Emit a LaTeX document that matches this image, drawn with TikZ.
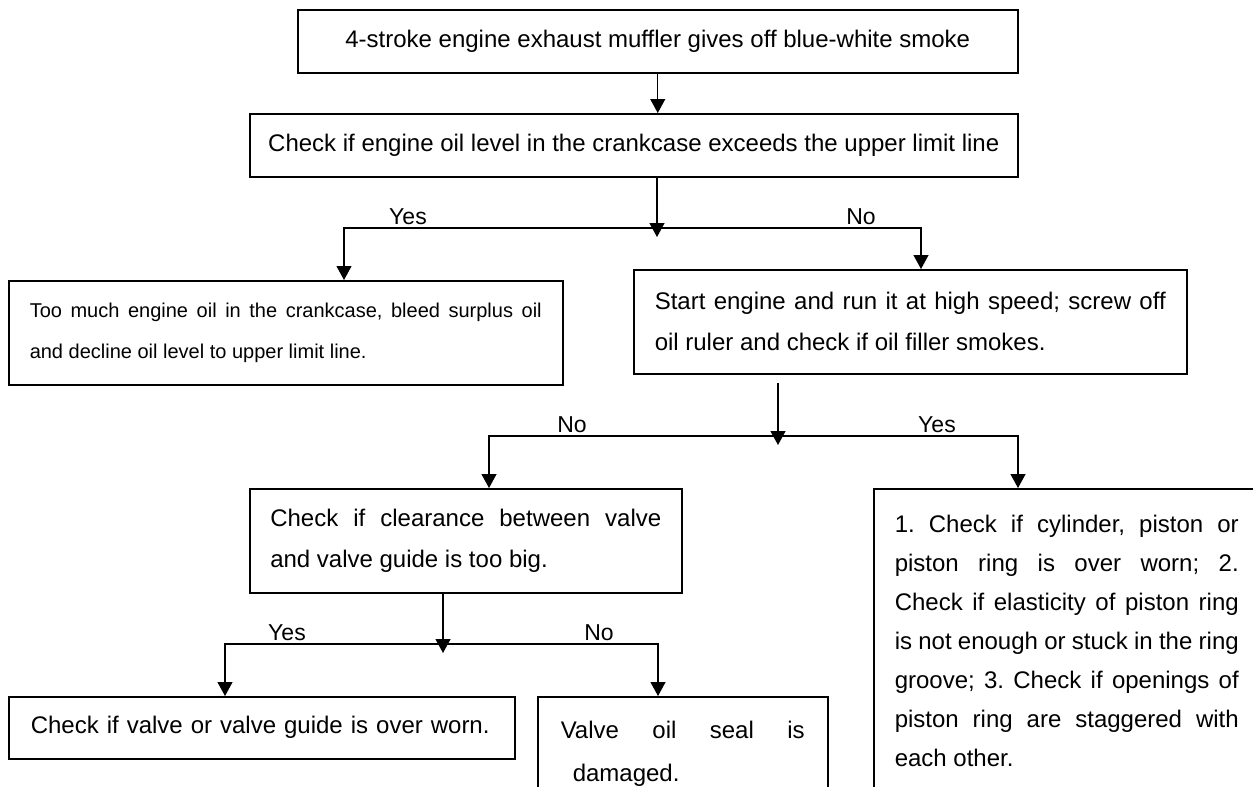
\documentclass[tikz,border=0pt]{standalone}
\usepackage{fontspec}
\setmainfont{Liberation Sans}
\frenchspacing
\usetikzlibrary{arrows.meta}

\begin{document}
\begin{tikzpicture}[
    x=0.5pt, y=-0.5pt,
    box/.style={rectangle, draw=black, line width=0.75pt, inner sep=0pt, anchor=north west, font=\fontsize{12}{20.5}\selectfont},
    para/.style={box, align=justify},
    lbl/.style={anchor=south, inner sep=1.5pt, font=\fontsize{11.5}{13}\selectfont},
    arr/.style={-{Triangle[length=7pt, width=7.5pt]}, line width=0.6pt},
    fork/.style={{Triangle[length=7pt, width=7.5pt]}-{Triangle[length=7pt, width=7.5pt]}, line width=0.6pt},
]
\useasboundingbox (0,0) rectangle (1253,787);
\clip (0,0) rectangle (1253,787);

% === Row 1: symptom and first check ===
\node[box, minimum width=360pt, minimum height=31.5pt] (smoke) at (297,9) {4-stroke engine exhaust muffler gives off blue-white smoke};
\node[box, minimum width=384pt, minimum height=31.5pt] (oillevel) at (249,113) {Check if engine oil level in the crankcase exceeds the upper limit line};

% === Row 2: oil level answers ===
\node[para, minimum width=277pt, minimum height=52pt, text width=256pt, font=\fontsize{10}{20.5}\selectfont] (toomuch) at (8,280) {Too much engine oil in the crankcase, bleed surplus oil\linebreak and decline oil level to upper limit line.};
\node[para, minimum width=276.5pt, minimum height=52pt, text width=255.5pt] (highspeed) at (633,269) {Start engine and run it at high speed; screw off\linebreak oil ruler and check if oil filler smokes.};

% === Row 3: filler smoke answers ===
\node[para, minimum width=216pt, minimum height=52pt, text width=195.5pt] (clearance) at (249,488) {Check if clearance between valve\linebreak and valve guide is too big.};
\node[para, minimum width=193pt, minimum height=152pt, text width=172pt, font=\fontsize{12}{19.5}\selectfont] (piston) at (873,488) {1. Check if cylinder, piston or\linebreak piston ring is over worn; 2.\linebreak Check if elasticity of piston ring\linebreak is not enough or stuck in the ring\linebreak groove; 3. Check if openings of\linebreak piston ring are staggered with\linebreak each other.};

% === Row 4: clearance answers ===
\node[box, align=left, minimum width=253pt, minimum height=31pt, text width=231pt] (guide) at (8,696) {Check if valve or valve guide is over worn.};
\node[para, minimum width=145pt, minimum height=57.5pt, text width=122pt, font=\fontsize{12}{21.5}\selectfont] (seal) at (537,696) {Valve oil seal is\linebreak\hspace*{6pt}damaged.};

% === Fork 1 ===
\coordinate (s1) at (657,237);
\coordinate (s1yes) at (344,228);
\coordinate (s1no) at (921,228);
\draw[arr] (smoke.south) -- (smoke.south |- oillevel.north);
\draw[arr] (s1 |- oillevel.south) -- (s1);
\draw[fork] (s1yes |- toomuch.north) -- (s1yes) -- (s1no) -- (s1no |- highspeed.north);
\node[lbl] (yes1) at (408,228) {Yes};
\node[lbl] (no1) at (861,228) {No};

% === Fork 2 ===
\coordinate (s2top) at (778,383);
\coordinate (s2) at (778,445);
\coordinate (s2no) at (489,436);
\coordinate (s2yes) at (1018,436);
\draw[arr] (s2top) -- (s2);
\draw[fork] (s2no |- clearance.north) -- (s2no) -- (s2yes) -- (s2yes |- piston.north);
\node[lbl] (no2) at (572,436) {No};
\node[lbl] (yes2) at (937,436) {Yes};

% === Fork 3 ===
\coordinate (s3) at (443,653);
\coordinate (s3yes) at (225,644);
\coordinate (s3no) at (658,644);
\draw[arr] (s3 |- clearance.south) -- (s3);
\draw[fork] (s3yes |- guide.north) -- (s3yes) -- (s3no) -- (s3no |- seal.north);
\node[lbl] (yes3) at (287,644) {Yes};
\node[lbl] (no3) at (599,644) {No};

\end{tikzpicture}
\end{document}
